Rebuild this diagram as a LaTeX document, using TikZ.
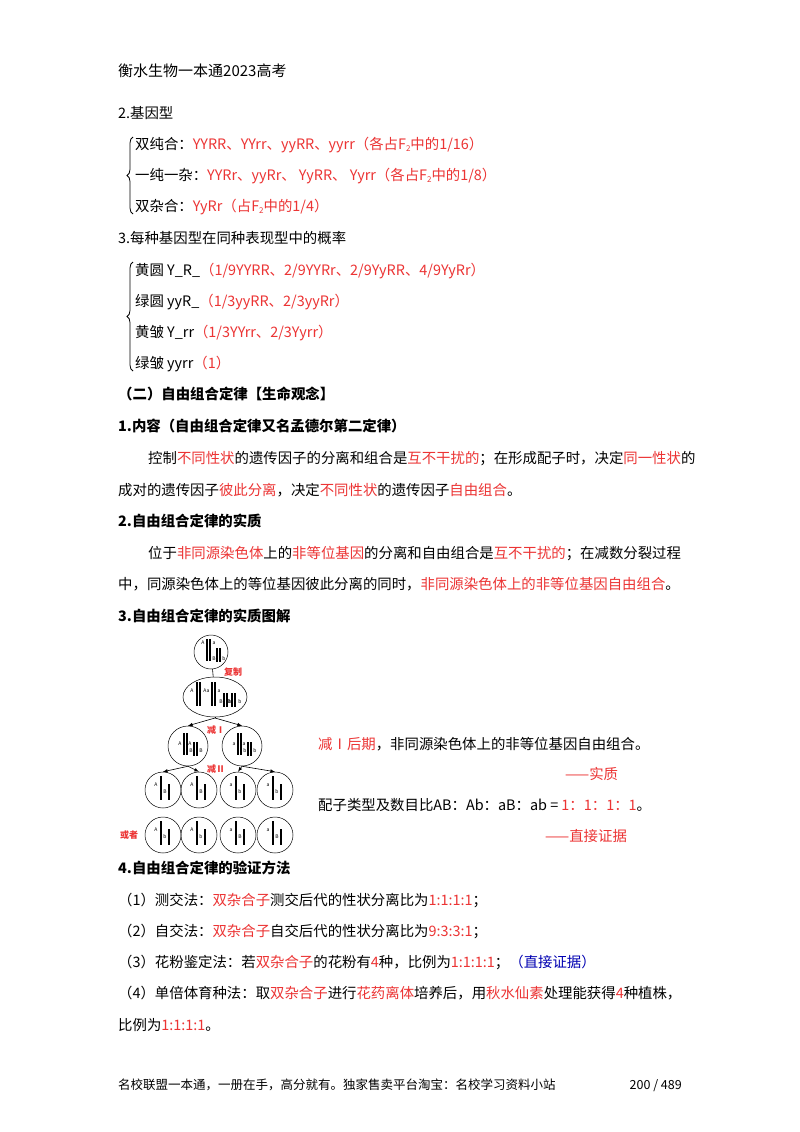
\documentclass[tikz,border=0pt]{standalone}
\usepackage{fontspec}
\setmainfont{Noto Sans CJK SC}
\usetikzlibrary{decorations.pathreplacing,shapes.geometric}
\definecolor{myred}{RGB}{236,52,52}
\newcommand\rd[1]{\textcolor{myred}{#1}}
\newcommand\Fs{F\raisebox{-2pt}{\fontsize{8}{8}\selectfont 2}}
\newcommand\chr[3]{\draw[line width=1.6pt] (#1,#2-#3/2) -- (#1,#2+#3/2);}
\newcommand\lbl[3]{\node[font=\fontsize{5}{5}\selectfont,inner sep=0pt] at (#1,#2) {#3};}
\begin{document}
\begin{tikzpicture}[x=1pt,y=-1pt,
  t/.style={anchor=base west,inner sep=0pt,font=\fontsize{14.4}{16}\selectfont},
  b/.style={t,font=\fontsize{14.4}{16}\selectfont\bfseries},
  cell/.style={draw,circle,minimum size=36pt,inner sep=0pt,line width=0.5pt},
  conn/.style={line width=0.6pt},
  rl/.style={text=myred,font=\fontsize{9}{9}\selectfont\bfseries,inner sep=0pt}]
\useasboundingbox (0,0) rectangle (800,1132);
\fill[white] (0,0) rectangle (800,1132);
\node[t,font=\fontsize{15}{16}\selectfont] (hd) at (118,77) {衡水生物一本通2023高考};
\node[t] (h2) at (118,118) {2.基因型};
\node[t] (a1) at (135,149) {双纯合：\rd{YYRR、YYrr、yyRR、yyrr（各占\Fs 中的1/16）}};
\node[t] (a2) at (135,180) {一纯一杂：\rd{YYRr、yyRr、 YyRR、 Yyrr（各占\Fs 中的1/8）}};
\node[t] (a3) at (135,211) {双杂合：\rd{YyRr（占\Fs 中的1/4）}};
\draw[decorate,decoration={brace,amplitude=6pt},line width=0.8pt] (133,214) -- (133,137);
\node[t] (h3) at (118,243) {3.每种基因型在同种表现型中的概率};
\node[t] (b1) at (135,275) {黄圆 Y\_R\_\rd{（1/9YYRR、2/9YYRr、2/9YyRR、4/9YyRr）}};
\node[t] (b2) at (135,306) {绿圆 yyR\_\rd{（1/3yyRR、2/3yyRr）}};
\node[t] (b3) at (135,337) {黄皱 Y\_rr\rd{（1/3YYrr、2/3Yyrr）}};
\node[t] (b4) at (135,368) {绿皱 yyrr\rd{（1）}};
\draw[decorate,decoration={brace,amplitude=6pt},line width=0.8pt] (133,371) -- (133,262);
\node[b] (s2) at (118,399) {（二）自由组合定律【生命观念】};
\node[b] (s21) at (118,431) {1.内容（自由组合定律又名孟德尔第二定律）};
\node[t] (p1) at (148,463) {控制\rd{不同性状}的遗传因子的分离和组合是\rd{互不干扰的}；在形成配子时，决定\rd{同一性状}的};
\node[t] (p2) at (118,495) {成对的遗传因子\rd{彼此分离}，决定\rd{不同性状}的遗传因子\rd{自由组合}。};
\node[b] (s22) at (118,526) {2.自由组合定律的实质};
\node[t] (q1) at (148,558) {位于\rd{非同源染色体}上的\rd{非等位基因}的分离和自由组合是\rd{互不干扰的}；在减数分裂过程};
\node[t] (q2) at (118,589) {中，同源染色体上的等位基因彼此分离的同时，\rd{非同源染色体上的非等位基因自由组合}。};
\node[b] (s23) at (118,621) {3.自由组合定律的实质图解};
% diagram
\node[cell,minimum size=34pt] (c0) at (211,652) {};
\node[draw,ellipse,minimum width=64pt,minimum height=40pt,inner sep=0pt,line width=0.5pt] (c1) at (215,697) {};
\node[cell,minimum size=40pt] (m1) at (188,746) {};
\node[cell,minimum size=40pt] (m2) at (242,746) {};
\foreach \i/\x in {1/163,2/199,3/238,4/275}{
  \node[cell] (d\i) at (\x,790) {};
  \node[cell] (e\i) at (\x,835) {};
}
\draw[conn] (c0) -- (c1);
\coordinate (v1) at (215,718);
\draw[conn] (c1.south) -- (v1);
\draw[conn,-latex] (v1) -- (m1.north);
\draw[conn,-latex] (v1) -- (m2.north);
\draw[conn,-latex] (m1.south) -- (d1.north);
\draw[conn,-latex] (m1.south) -- (d2.north);
\draw[conn,-latex] (m2.south) -- (d3.north);
\draw[conn,-latex] (m2.south) -- (d4.north);
\node[rl] (l1) at (233,672) {复制};
\node[rl] (l2) at (216,730) {减Ⅰ};
\node[rl] (l3) at (216,769) {减Ⅱ};
\node[rl,font=\fontsize{9}{9}\selectfont\bfseries\itshape] (l4) at (129,835) {或者};
% chromosomes top
\chr{207}{650}{22}\chr{210}{650}{22}\chr{217}{655}{14}\chr{220}{655}{14}
\lbl{203}{643}{A}\lbl{214}{643}{a}\lbl{214}{659}{B}\lbl{224}{659}{b}
% ellipse
\foreach \x in {197,200,212,215}{\chr{\x}{694}{24}}
\foreach \x in {224,227,232,235}{\chr{\x}{700}{14}}
\lbl{192}{691}{A}\lbl{205}{691}{A}\lbl{208}{691}{a}\lbl{219}{691}{a}
\lbl{221}{702}{B}\lbl{229}{702}{B}\lbl{230}{702}{b}\lbl{240}{702}{b}
% middle
\chr{184}{744}{22}\chr{187}{744}{22}\chr{194}{749}{14}\chr{197}{749}{14}
\lbl{180}{744}{A}\lbl{190}{744}{A}\lbl{191}{751}{B}\lbl{201}{751}{B}
\chr{238}{744}{22}\chr{241}{744}{22}\chr{248}{749}{14}\chr{251}{749}{14}
\lbl{234}{744}{a}\lbl{244}{744}{a}\lbl{245}{751}{b}\lbl{255}{751}{b}
% bottom
\foreach \i/\x/\p/\q in {1/163/A/B,2/199/A/B,3/238/a/b,4/275/a/b}{
  \chr{\x-2}{788}{24}\chr{\x+6}{792}{16}
  \lbl{\x-7}{785}{\p}\lbl{\x+2}{792}{\q}
}
\foreach \i/\x/\p/\q in {1/163/A/b,2/199/A/b,3/238/a/B,4/275/a/B}{
  \chr{\x-2}{833}{24}\chr{\x+6}{837}{16}
  \lbl{\x-7}{830}{\p}\lbl{\x+2}{837}{\q}
}
\node[t] (r1) at (318,749) {\rd{减Ⅰ后期}，非同源染色体上的非等位基因自由组合。};
\node[t] (r2) at (565,779) {\rd{——实质}};
\node[t] (r3) at (318,810) {配子类型及数目比AB：Ab：aB：ab = \rd{1：1：1：1}。};
\node[t] (r4) at (545,841) {\rd{——直接证据}};
\node[b] (s24) at (118,873) {4.自由组合定律的验证方法};
\node[t] (v1t) at (118,905) {（1）测交法：\rd{双杂合子}测交后代的性状分离比为\rd{1:1:1:1}；};
\node[t] (v2t) at (118,936) {（2）自交法：\rd{双杂合子}自交后代的性状分离比为\rd{9:3:3:1}；};
\node[t] (v3t) at (118,967) {（3）花粉鉴定法：若\rd{双杂合子}的花粉有\rd{4}种，比例为\rd{1:1:1:1}；\textcolor{blue!70!black}{（直接证据）}};
\node[t] (v4t) at (118,998) {（4）单倍体育种法：取\rd{双杂合子}进行\rd{花药离体}培养后，用\rd{秋水仙素}处理能获得\rd{4}种植株，};
\node[t] (v5t) at (118,1030) {比例为\rd{1:1:1:1}。};
\node[t,font=\fontsize{12.5}{14}\selectfont] (ft) at (118,1089) {名校联盟一本通，一册在手，高分就有。独家售卖平台淘宝：名校学习资料小站};
\node[anchor=base east,inner sep=0pt,font=\fontsize{12.5}{14}\selectfont] (pg) at (682,1089) {200 / 489};
\end{tikzpicture}
\end{document}
